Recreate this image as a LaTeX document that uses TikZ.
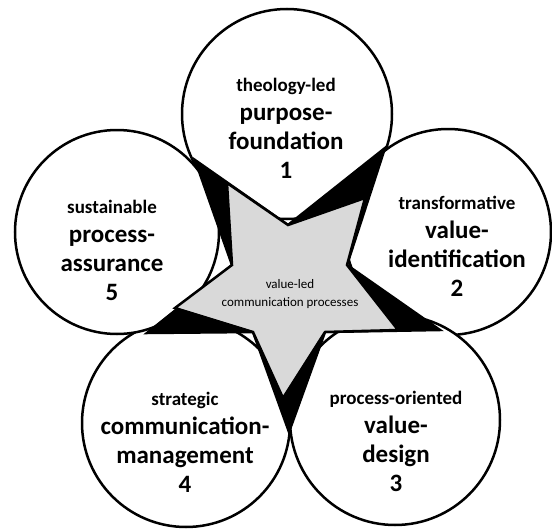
\documentclass[tikz,border=0pt]{standalone}
\usepackage{fontspec}
\setmainfont{Carlito}
\newcommand{\bigline}{\fontsize{25}{29}\selectfont}

\begin{document}
\begin{tikzpicture}[x=1pt,y=-1pt,
  petal/.style={circle,draw,line width=2.5pt,fill=white,minimum size=#1},
  petaltext/.style={align=center,font=\bfseries\fontsize{19}{29}\selectfont},
  starline/.style={draw,line width=2.5pt,line join=miter}]
  \useasboundingbox (0,0) rectangle (552,530);

  % the five circles
  \node[petal=210pt] (c1) at (287,114) {};
  \node[petal=206pt] (c2) at (448,232) {};
  \node[petal=210pt] (c3) at (395,420) {};
  \node[petal=208pt] (c4) at (186,423) {};
  \node[petal=204pt] (c5) at (117,232) {};

  % inner corners of the star
  \coordinate (i1) at (288,225);
  \coordinate (i2) at (347,265);
  \coordinate (i3) at (325,332);
  \coordinate (i4) at (253,332);
  \coordinate (i5) at (232,265);
  % black tips, between the circles
  \coordinate (b1) at (385,148);
  \coordinate (b2) at (440,330);
  \coordinate (b3) at (289,432);
  \coordinate (b4) at (147,333);
  \coordinate (b5) at (195,160);
  % grey tips
  \coordinate (g1) at (365,198);
  \coordinate (g2) at (398,330);
  \coordinate (g3) at (283,398);
  \coordinate (g4) at (175,308);
  \coordinate (g5) at (227,183);

  \path[starline,fill=black] (i1) -- (b1) -- (i2) -- (b2) -- (i3) -- (b3)
    -- (i4) -- (b4) -- (i5) -- (b5) -- cycle;
  \path[starline,fill=black!15] (i1) -- (g1) -- (i2) -- (g2) -- (i3) -- (g3)
    -- (i4) -- (g4) -- (i5) -- (g5) -- cycle;

  \node[align=center,font=\fontsize{13}{18}\selectfont] (core) at (290,294)
    {value-led\\communication processes};

  \node[petaltext] (t1) at (286,128) {theology-led\\\bigline purpose-\\\bigline foundation\\\bigline 1};
  \node[petaltext] (t2) at (457,246) {transformative\\\bigline value-\\\bigline identification\\\bigline 2};
  \node[petaltext] (t3) at (396,441) {process-oriented\\\bigline value-\\\bigline design\\\bigline 3};
  \node[petaltext] (t4) at (185,442) {strategic\\\bigline communication-\\\bigline management\\\bigline 4};
  \node[petaltext] (t5) at (112,250) {sustainable\\\bigline process-\\\bigline assurance\\\bigline 5};
\end{tikzpicture}
\end{document}
